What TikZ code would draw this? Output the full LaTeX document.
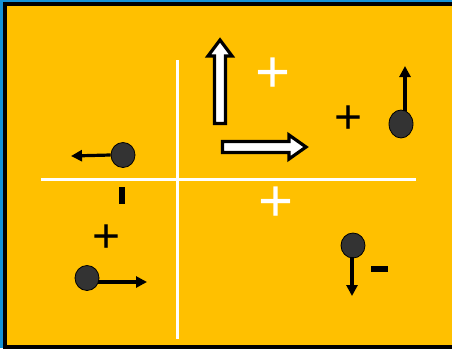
\documentclass[tikz,border=0pt]{standalone}
\usepackage{fontspec}
\setmainfont{Liberation Sans}
\usetikzlibrary{arrows.meta,shapes.geometric}
\definecolor{bgblue}{HTML}{1592D6}
\definecolor{panel}{HTML}{FFC000}
\definecolor{ball}{HTML}{333333}
\tikzset{
  axis/.style={white,line width=3pt},
  blockarrow/.style={fill=white,draw=black,line width=3.2pt,miter limit=10},
  charge/.style={ellipse,fill=ball,draw=black,line width=0.8pt,inner sep=0pt,minimum width=24pt,minimum height=25pt},
  force/.style={line width=3.2pt,-{Triangle[length=11pt,width=11pt]}},
  bigplus/.style={white,inner sep=0pt,font=\fontsize{60}{60}\selectfont},
  smallplus/.style={black,inner sep=0pt,font=\fontsize{48}{48}\selectfont},
  bar/.style={fill=black,inner sep=0pt}
}
\begin{document}
\begin{tikzpicture}[x=1pt,y=-1pt]
\useasboundingbox (0,0) rectangle (452,348);
\clip (0,0) rectangle (452,348);
\fill[bgblue] (0,0) rectangle (452,348);
\filldraw[fill=panel,draw=black,line width=3.5pt] (5,4) rectangle (470,347);
% axes
\coordinate (vtop) at (177,60);
\coordinate (vbot) at (177,339);
\coordinate (hl) at (41,179);
\coordinate (hr) at (416,179);
\draw[axis] (vtop) -- (vbot);
\draw[axis] (hl) -- (hr);
% block arrows
\draw[blockarrow] (214.5,123.5) -- (214.5,56) -- (208,56) -- (220,40) -- (232,56) -- (225.5,56) -- (225.5,123.5) -- cycle;
\draw[blockarrow] (222.5,141.5) -- (289,141.5) -- (289,135) -- (306,147) -- (289,159) -- (289,152.5) -- (222.5,152.5) -- cycle;
% plus signs
\node[bigplus] (p1) at (273,75) {+};
\node[bigplus] (p2) at (276,204) {+};
\node[smallplus] (p3) at (349,120) {+};
\node[smallplus] (p4) at (107,239) {+};
% bars (minus signs)
\node[bar,minimum width=6pt,minimum height=17pt] (m1) at (122,195.5) {};
\node[bar,minimum width=17pt,minimum height=6pt] (m2) at (379.5,269) {};
% charges and forces
\node[charge] (c1) at (123,155) {};
\coordinate (t1) at (71,156);
\draw[force] (c1.west) -- (t1);
\node[charge,minimum height=28pt] (c2) at (401,124) {};
\coordinate (s2) at (405,111);
\coordinate (t2) at (405,66);
\draw[force] (s2) -- (t2);
\node[charge] (c3) at (87,278) {};
\coordinate (s3) at (98,282);
\coordinate (t3) at (147,282);
\draw[force] (s3) -- (t3);
\node[charge] (c4) at (353,245.5) {};
\coordinate (s4) at (352,257);
\coordinate (t4) at (352,296);
\draw[force] (s4) -- (t4);
\end{tikzpicture}
\end{document}
